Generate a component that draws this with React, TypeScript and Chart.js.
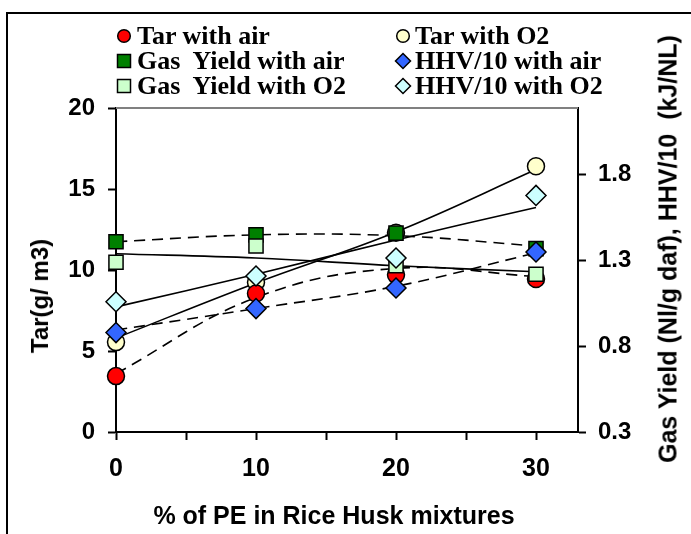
import { useEffect, useRef } from 'react';
import { Chart, registerables } from 'chart.js';

Chart.register(...registerables);

// ---- data ----
const peShare = [0, 10, 20, 30];

// markers
const tarAir = [3.45, 8.55, 9.7, 9.45];
const tarO2 = [5.55, 9.25, 12.3, 16.4];
const gasYieldAir = [1.41, 1.45, 1.46, 1.37];
const gasYieldO2 = [1.29, 1.385, 1.27, 1.22];
const hhvAir = [0.88, 1.02, 1.14, 1.35];
const hhvO2 = [1.06, 1.21, 1.315, 1.68];

// trend lines (values read where each curve crosses x = 0, 10, 20, 30)
const tarAirTrend = [3.6, 8.3, 10.1, 9.6];
const tarO2Trend = [5.8, 9.2, 12.35, 16.2];
const gasYieldAirTrend = [1.41, 1.45, 1.445, 1.385];
const gasYieldO2Trend = [1.34, 1.315, 1.27, 1.235];
const hhvAirTrend = [0.895, 1.02, 1.15, 1.345];
const hhvO2Trend = [1.03, 1.22, 1.42, 1.61];

const xTicks = [0, 5, 10, 15, 20, 25, 30];
const leftTicks = [0, 5, 10, 15, 20];
const rightTicks = [0.3, 0.8, 1.3, 1.8];

const legendLabels = [
  'Tar with air',
  'Tar with O2',
  'Gas  Yield with air',
  'HHV/10 with air',
  'Gas  Yield with O2',
  'HHV/10 with O2',
];

const SANS = '"Liberation Sans", Arial, sans-serif';
const SERIF = '"Liberation Serif", "Times New Roman", serif';

const pts = (ys: number[]) => peShare.map((x, i) => ({ x, y: ys[i] }));

function LegendMarker({ kind, fill }: { kind: string; fill: string }) {
  return (
    <svg width={18} height={18} viewBox="-9 -9 18 18" style={{ display: 'block' }}>
      {kind === 'circle' && <circle cx={0} cy={0} r={6.3} fill={fill} stroke="#000" strokeWidth={1.5} />}
      {kind === 'square' && <rect x={-6.5} y={-6.5} width={13} height={13} fill={fill} stroke="#000" strokeWidth={1.5} />}
      {kind === 'diamond' && <polygon points="0,-7.5 7.5,0 0,7.5 -7.5,0" fill={fill} stroke="#000" strokeWidth={1.5} />}
    </svg>
  );
}

export default function App() {
  const canvasRef = useRef<HTMLCanvasElement | null>(null);

  useEffect(() => {
    const canvas = canvasRef.current;
    if (!canvas) return;

    const tickFont = { family: SANS, size: 24, weight: 'bold' as const };

    const marker = (
      label: string,
      data: number[],
      axis: string,
      style: string,
      radius: number,
      color: string,
      order: number
    ) => ({
      label,
      data: pts(data),
      yAxisID: axis,
      showLine: false,
      pointStyle: style,
      pointRadius: radius,
      pointHoverRadius: radius,
      pointBackgroundColor: color,
      pointBorderColor: '#000',
      pointBorderWidth: 1.5,
      backgroundColor: color,
      borderColor: '#000',
      clip: false as const,
      order,
    });

    const trend = (data: number[], axis: string, dashed: boolean, order: number) => ({
      label: 'trend',
      data: pts(data),
      yAxisID: axis,
      showLine: true,
      pointRadius: 0,
      pointHoverRadius: 0,
      borderColor: '#000',
      borderWidth: 1.6,
      borderDash: dashed ? [11, 7] : [],
      tension: 0.4,
      fill: false,
      clip: false as const,
      order,
    });

    const topLine = {
      id: 'topLine',
      beforeDatasetsDraw(chart: any) {
        const { ctx, chartArea } = chart;
        ctx.save();
        ctx.strokeStyle = '#808080';
        ctx.lineWidth = 2;
        ctx.beginPath();
        ctx.moveTo(chartArea.left, chartArea.top);
        ctx.lineTo(chartArea.right, chartArea.top);
        ctx.stroke();
        ctx.restore();
      },
    };

    const chart = new Chart(canvas, {
      type: 'scatter',
      data: {
        datasets: [
          marker('HHV/10 with O2', hhvO2, 'y1', 'rectRot', 10, '#CCFFFF', 1),
          marker('HHV/10 with air', hhvAir, 'y1', 'rectRot', 10, '#3366FF', 2),
          marker('Gas Yield with O2', gasYieldO2, 'y1', 'rect', 10, '#CCFFCC', 3),
          marker('Gas Yield with air', gasYieldAir, 'y1', 'rect', 10, '#008000', 4),
          marker('Tar with air', tarAir, 'y', 'circle', 8.5, '#FF0000', 5),
          marker('Tar with O2', tarO2, 'y', 'circle', 8.5, '#FFFFCC', 6),
          trend(tarAirTrend, 'y', true, 10),
          trend(tarO2Trend, 'y', false, 11),
          trend(gasYieldAirTrend, 'y1', true, 12),
          trend(gasYieldO2Trend, 'y1', false, 13),
          trend(hhvAirTrend, 'y1', true, 14),
          trend(hhvO2Trend, 'y1', false, 15),
        ] as any,
      },
      options: {
        responsive: false,
        animation: false,
        devicePixelRatio: window.devicePixelRatio || 1,
        layout: { padding: { top: 108, left: 0, right: 0, bottom: 0 } },
        plugins: {
          legend: { display: false },
          tooltip: { enabled: false },
          title: { display: false },
        },
        scales: {
          x: {
            type: 'linear',
            min: 0,
            max: 33,
            afterBuildTicks: (s: any) => {
              s.ticks = xTicks.map((v) => ({ value: v }));
            },
            afterFit: (s: any) => {
              s.height = 102;
            },
            ticks: {
              callback: (v: any) => (Number(v) % 10 === 0 ? String(v) : ''),
              font: { family: SANS, size: 25, weight: 'bold' },
              color: '#000',
              padding: 14,
              maxRotation: 0,
              autoSkip: false,
            },
            grid: { drawOnChartArea: false, drawTicks: true, tickLength: 8, tickColor: '#000', tickWidth: 2 },
            border: { display: true, color: '#000', width: 2 },
          },
          y: {
            type: 'linear',
            position: 'left',
            min: 0,
            max: 20,
            afterBuildTicks: (s: any) => {
              s.ticks = leftTicks.map((v) => ({ value: v }));
            },
            afterFit: (s: any) => {
              s.width = 116;
            },
            ticks: { font: tickFont, color: '#000', padding: 13, autoSkip: false },
            grid: { drawOnChartArea: false, drawTicks: true, tickLength: 8, tickColor: '#000', tickWidth: 2 },
            border: { display: true, color: '#000', width: 2 },
          },
          y1: {
            type: 'linear',
            position: 'right',
            min: 0.3,
            max: 2.19,
            afterBuildTicks: (s: any) => {
              s.ticks = rightTicks.map((v) => ({ value: v }));
            },
            afterFit: (s: any) => {
              s.width = 113;
            },
            ticks: {
              callback: (v: any) => Number(v).toFixed(1),
              font: tickFont,
              color: '#000',
              padding: 12,
              autoSkip: false,
            },
            grid: { drawOnChartArea: false, drawTicks: true, tickLength: 8, tickColor: '#000', tickWidth: 2 },
            border: { display: true, color: '#000', width: 2 },
          },
        },
      } as any,
      plugins: [topLine],
    });

    return () => chart.destroy();
  }, []);

  const legendItems = [
    { kind: 'circle', fill: '#FF0000', mx: 124, tx: 137, y: 36 },
    { kind: 'circle', fill: '#FFFFCC', mx: 403, tx: 415, y: 36 },
    { kind: 'square', fill: '#008000', mx: 124, tx: 137, y: 61 },
    { kind: 'diamond', fill: '#3366FF', mx: 403, tx: 415, y: 61 },
    { kind: 'square', fill: '#CCFFCC', mx: 124, tx: 137, y: 86 },
    { kind: 'diamond', fill: '#CCFFFF', mx: 403, tx: 415, y: 86 },
  ];

  return (
    <div
      style={{
        position: 'fixed',
        left: 0,
        top: 0,
        width: 691,
        height: 534,
        background: '#fff',
        overflow: 'hidden',
      }}
    >
      <div
        style={{
          position: 'absolute',
          left: 6,
          top: 12,
          width: 720,
          height: 560,
          borderTop: '2px solid #000',
          borderLeft: '2px solid #000',
        }}
      />
      <canvas ref={canvasRef} width={691} height={534} style={{ position: 'absolute', left: 0, top: 0, width: 691, height: 534 }} />
      {legendItems.map((it, i) => (
        <div key={i}>
          <div style={{ position: 'absolute', left: it.mx - 9, top: it.y - 9 }}>
            <LegendMarker kind={it.kind} fill={it.fill} />
          </div>
          <div
            style={{
              position: 'absolute',
              left: it.tx,
              top: it.y - 13,
              font: `bold 26px ${SERIF}`,
              lineHeight: '26px',
              whiteSpace: 'pre',
              color: '#000',
            }}
          >
            {legendLabels[i]}
          </div>
        </div>
      ))}
      <div
        style={{
          position: 'absolute',
          left: 40,
          top: 296,
          transform: 'translate(-50%, -50%) rotate(-90deg)',
          font: `bold 24px ${SANS}`,
          lineHeight: '24px',
          whiteSpace: 'pre',
          color: '#000',
        }}
      >
        Tar(g/ m3)
      </div>
      <div
        style={{
          position: 'absolute',
          left: 668,
          top: 249,
          transform: 'translate(-50%, -50%) rotate(-90deg)',
          font: `bold 25px ${SANS}`,
          lineHeight: '25px',
          whiteSpace: 'pre',
          color: '#000',
        }}
      >
        {'Gas Yield (Nl/g daf), HHV/10  (kJ/NL)'}
      </div>
      <div
        style={{
          position: 'absolute',
          left: 334,
          top: 515,
          transform: 'translate(-50%, -50%)',
          font: `bold 25px ${SANS}`,
          lineHeight: '25px',
          whiteSpace: 'pre',
          color: '#000',
        }}
      >
        % of PE in Rice Husk mixtures
      </div>
    </div>
  );
}
